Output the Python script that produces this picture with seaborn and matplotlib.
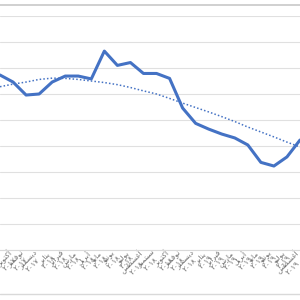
import numpy as np
import pandas as pd
import matplotlib
matplotlib.use("Agg")
import matplotlib.pyplot as plt
from matplotlib.lines import Line2D
import seaborn as sns

months = ["سبتمبر", "أكتوبر", "نوفمبر", "ديسمبر",
          "يناير", "فبراير", "مارس", "أبريل", "مايو", "يونيو", "يوليو", "أغسطس",
          "سبتمبر", "أكتوبر", "نوفمبر", "ديسمبر",
          "يناير", "فبراير", "مارس", "أبريل", "مايو", "يونيو", "يوليو", "أغسطس"]
years = ["٢٠١٧"] * 4 + ["٢٠١٨"] * 12 + ["٢٠١٩"] * 8

values = [67.3, 64.6, 59.6, 60.0, 64.6, 66.9, 66.9, 65.8, 76.5, 71.0, 72.1, 67.9,
          67.9, 66.0, 54.6, 48.7, 46.5, 44.6, 43.1, 40.4, 33.7, 32.3, 35.8, 42.3]
trend = [62.8, 63.8, 64.6, 65.6, 66.1, 66.0, 65.6, 65.0, 64.4, 63.6, 62.5, 61.2,
         60.0, 58.3, 56.5, 54.8, 53.1, 51.3, 49.4, 47.3, 45.4, 43.5, 41.5, 39.6]

# contextual forms: (isolated, final, initial, medial); two entries = no join to the next letter
forms = {
    "ا": ("\uFE8D", "\uFE8E"), "أ": ("\uFE83", "\uFE84"),
    "د": ("\uFEA9", "\uFEAA"), "ر": ("\uFEAD", "\uFEAE"), "و": ("\uFEED", "\uFEEE"),
    "ب": ("\uFE8F", "\uFE90", "\uFE91", "\uFE92"), "ت": ("\uFE95", "\uFE96", "\uFE97", "\uFE98"),
    "س": ("\uFEB1", "\uFEB2", "\uFEB3", "\uFEB4"), "ط": ("\uFEC1", "\uFEC2", "\uFEC3", "\uFEC4"),
    "غ": ("\uFECD", "\uFECE", "\uFECF", "\uFED0"), "ف": ("\uFED1", "\uFED2", "\uFED3", "\uFED4"),
    "ك": ("\uFED9", "\uFEDA", "\uFEDB", "\uFEDC"), "ل": ("\uFEDD", "\uFEDE", "\uFEDF", "\uFEE0"),
    "م": ("\uFEE1", "\uFEE2", "\uFEE3", "\uFEE4"), "ن": ("\uFEE5", "\uFEE6", "\uFEE7", "\uFEE8"),
    "ي": ("\uFEF1", "\uFEF2", "\uFEF3", "\uFEF4"),
}


def shape(word):
    out = []
    for i, ch in enumerate(word):
        f = forms[ch]
        jp = i > 0 and len(forms[word[i - 1]]) == 4
        jn = i + 1 < len(word) and len(f) == 4
        if jp and jn:
            out.append(f[3])
        elif jp:
            out.append(f[1])
        elif jn:
            out.append(f[2])
        else:
            out.append(f[0])
    return "".join(reversed(out))


labels = [shape(m) + "\n" + y for m, y in zip(months, years)]
df = pd.DataFrame({"i": np.arange(len(values)), "v": values, "t": trend})

sns.set_theme(style="white")
plt.rcParams["font.family"] = ["DejaVu Sans"]

fig = plt.figure(figsize=(3, 3), dpi=100)
ax = fig.add_axes([0, 50 / 300, 1, 234 / 300])

sns.lineplot(data=df, x="i", y="t", ax=ax, color="#4472C4", linewidth=1.1,
             linestyle=(0, (1, 1.4)))
sns.lineplot(data=df, x="i", y="v", ax=ax, color="#4472C4", linewidth=2.2)

ax.set_ylim(0, 90)
ax.set_xlim(3.5 / 13.25, 303.5 / 13.25)
ax.set_yticks(np.arange(0, 91, 10))
ax.set_yticklabels([])
ax.tick_params(axis="y", length=0)
ax.grid(axis="y", color="#E0E0E0", linewidth=0.8)
ax.set_axisbelow(True)
for s in ["left", "right", "top"]:
    ax.spines[s].set_visible(False)
ax.spines["bottom"].set_color("#D9D9D9")
ax.spines["bottom"].set_linewidth(0.8)

ax.set_xticks(df["i"])
ax.set_xticklabels(labels, rotation=45, ha="right", va="center",
                   rotation_mode="anchor", fontsize=5.4, color="#6E6E6E",
                   multialignment="center", linespacing=1.05)
ax.tick_params(axis="x", length=0, pad=3)
ax.set_xlabel("")
ax.set_ylabel("")

fig.add_artist(Line2D([0, 1], [1 - 4.5 / 300, 1 - 4.5 / 300], color="#C8C8C8", linewidth=1.2))
fig.add_artist(Line2D([0, 1], [1 - 294 / 300, 1 - 294 / 300], color="#D9D9D9", linewidth=1.0))

fig.savefig("out.png", dpi=100)
